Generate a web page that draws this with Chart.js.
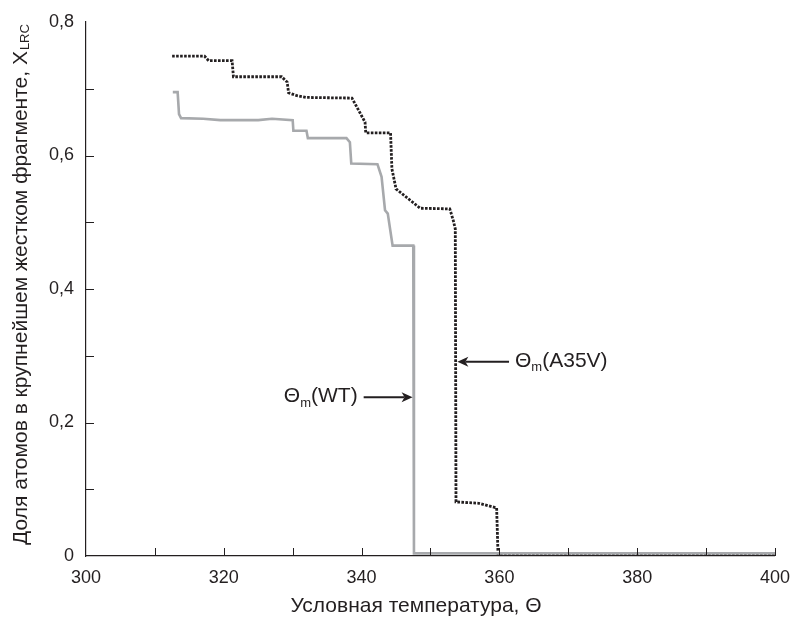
<!DOCTYPE html>
<html>
<head>
<meta charset="utf-8">
<script src="https://cdn.jsdelivr.net/npm/chart.js@4.4.1/dist/chart.umd.min.js"></script>
<style>
  html, body { margin: 0; padding: 0; background: #fff; }
  #wrap { width: 793px; height: 617px; }
</style>
</head>
<body>
<div id="wrap"><canvas id="graphique"></canvas></div>
<script>
// Données
const WT_X = [312.6, 313.3, 313.5, 313.8, 317, 319.5, 325, 327, 330, 330.1, 332, 332.2, 337.8, 338.3, 338.5, 342.3, 342.9, 343.4, 343.8, 344.5, 347.5, 347.6, 360, 400];
const WT_Y = [0.695, 0.695, 0.662, 0.656, 0.655, 0.653, 0.653, 0.655, 0.653, 0.637, 0.637, 0.626, 0.626, 0.62, 0.588, 0.587, 0.568, 0.518, 0.513, 0.465, 0.465, 0.004, 0.004, 0.004];

const A35V_X = [312.5, 317.2, 317.8, 321.2, 321.4, 328.4, 329.2, 329.4, 330.5, 332, 338.6, 340.5, 340.6, 344.2, 344.4, 345, 348.5, 352.8, 353.3, 353.6, 353.7, 357, 359.6, 359.8, 400];
const A35V_Y = [0.749, 0.749, 0.742, 0.742, 0.718, 0.718, 0.71, 0.694, 0.69, 0.687, 0.686, 0.65, 0.634, 0.634, 0.58, 0.55, 0.521, 0.52, 0.503, 0.49, 0.081, 0.079, 0.072, 0.003, 0.003];

// Flèches : [x queue, x pointe, y]
const FLECHE_WT = [340.3, 347.4, 0.238];
const FLECHE_A35V = [361.4, 353.9, 0.291];

const X_TICKS = [300, 320, 340, 360, 380, 400];
const Y_TICKS = [0, 0.2, 0.4, 0.6, 0.8];

function points(xs, ys) {
    let res = [];
    for (let i = 0; i < xs.length; i++) res.push({ x: xs[i], y: ys[i] });
    return res;
}

const POLICE = '"Liberation Sans", Arial, sans-serif';
const NOIR = '#231f20';

// Tirets vers l'intérieur, titres, flèches
const decor = {
    id: 'decor',
    afterDraw(chart) {
        let ctx = chart.ctx;
        let sx = chart.scales.x, sy = chart.scales.y;
        let area = chart.chartArea;
        ctx.save();

        // petits tirets
        ctx.strokeStyle = NOIR;
        ctx.lineWidth = 1;
        ctx.beginPath();
        for (let v = 310; v <= 400; v += 10) {
            let px = Math.round(sx.getPixelForValue(v)) + 0.5;
            ctx.moveTo(px, area.bottom);
            ctx.lineTo(px, area.bottom - 8);
        }
        for (let k = 1; k <= 7; k++) {
            let py = Math.round(sy.getPixelForValue(k / 10)) + 0.5;
            ctx.moveTo(area.left, py);
            ctx.lineTo(area.left + 8, py);
        }
        ctx.stroke();

        // titre de l'axe X
        ctx.fillStyle = NOIR;
        ctx.font = '21px ' + POLICE;
        ctx.textAlign = 'center';
        ctx.textBaseline = 'alphabetic';
        ctx.fillText('Условная температура, Θ', 416, 612);

        // titre de l'axe Y
        ctx.translate(27, 285);
        ctx.rotate(-Math.PI / 2);
        let principal = 'Доля атомов в крупнейшем жестком фрагменте, X';
        let indice = 'LRC';
        ctx.font = '21px ' + POLICE;
        let l1 = ctx.measureText(principal).width;
        ctx.font = '13px ' + POLICE;
        let l2 = ctx.measureText(indice).width;
        let debut = -(l1 + l2) / 2;
        ctx.textAlign = 'left';
        ctx.font = '21px ' + POLICE;
        ctx.fillText(principal, debut, 0);
        ctx.font = '13px ' + POLICE;
        ctx.fillText(indice, debut + l1 + 1, 2);
        ctx.setTransform(1, 0, 0, 1, 0, 0);

        // flèches
        function fleche(f) {
            let x1 = sx.getPixelForValue(f[0]);
            let x2 = sx.getPixelForValue(f[1]);
            let y = sy.getPixelForValue(f[2]);
            let dir = x2 > x1 ? 1 : -1;
            ctx.strokeStyle = NOIR;
            ctx.fillStyle = NOIR;
            ctx.lineWidth = 2;
            ctx.beginPath();
            ctx.moveTo(x1, y);
            ctx.lineTo(x2 - dir * 8, y);
            ctx.stroke();
            ctx.beginPath();
            ctx.moveTo(x2, y);
            ctx.lineTo(x2 - dir * 11, y - 5);
            ctx.lineTo(x2 - dir * 8, y);
            ctx.lineTo(x2 - dir * 11, y + 5);
            ctx.closePath();
            ctx.fill();
            return { x: x1, y: y };
        }

        function etiquette(suffixe, x, y, versGauche) {
            ctx.font = '21px ' + POLICE;
            let lt = ctx.measureText('Θ').width;
            let ls = ctx.measureText(suffixe).width;
            ctx.font = '13px ' + POLICE;
            let lm = ctx.measureText('m').width;
            let total = lt + lm + ls;
            let x0 = versGauche ? x - total : x;
            ctx.textBaseline = 'middle';
            ctx.textAlign = 'left';
            ctx.fillStyle = NOIR;
            ctx.font = '21px ' + POLICE;
            ctx.fillText('Θ', x0, y);
            ctx.font = '13px ' + POLICE;
            ctx.fillText('m', x0 + lt, y + 7);
            ctx.font = '21px ' + POLICE;
            ctx.fillText(suffixe, x0 + lt + lm, y);
        }

        let a = fleche(FLECHE_WT);
        etiquette('(WT)', a.x - 6, a.y - 1, true);
        let b = fleche(FLECHE_A35V);
        etiquette('(A35V)', b.x + 6, b.y - 1, false);

        ctx.restore();
    }
};

new Chart(document.getElementById('graphique'), {
    type: 'line',
    data: {
        datasets: [
            { label: 'WT', data: points(WT_X, WT_Y), borderColor: '#a7a9ac', borderWidth: 2.6, pointRadius: 0, tension: 0, fill: false },
            { label: 'A35V', data: points(A35V_X, A35V_Y), borderColor: '#231f20', borderWidth: 2.8, borderDash: [2.6, 1.4], pointRadius: 0, tension: 0, fill: false }
        ]
    },
    options: {
        responsive: true, maintainAspectRatio: false, animation: false,
        layout: { padding: { left: 0, right: 16, top: 22, bottom: 0 } },
        plugins: { legend: { display: false }, tooltip: { enabled: false } },
        scales: {
            x: {
                type: 'linear', min: 300, max: 400,
                afterFit(s) { s.height = 61; },
                afterBuildTicks(s) { s.ticks = X_TICKS.map(v => ({ value: v })); },
                ticks: { color: NOIR, font: { family: POLICE, size: 18 }, padding: 3, maxRotation: 0, autoSkip: false },
                grid: { drawOnChartArea: false, color: 'rgba(0,0,0,0)', tickLength: 8 },
                border: { display: true, color: NOIR, width: 1.2 }
            },
            y: {
                min: 0, max: 0.8,
                afterFit(s) { s.width = 86; },
                afterBuildTicks(s) { s.ticks = Y_TICKS.map(v => ({ value: v })); },
                ticks: {
                    color: NOIR, font: { family: POLICE, size: 18 }, padding: 4,
                    callback: v => v === 0 ? '0' : v.toFixed(1).replace('.', ',')
                },
                grid: { drawOnChartArea: false, color: 'rgba(0,0,0,0)', tickLength: 8 },
                border: { display: true, color: NOIR, width: 1.2 }
            }
        }
    },
    plugins: [decor]
});
</script>
</body>
</html>
